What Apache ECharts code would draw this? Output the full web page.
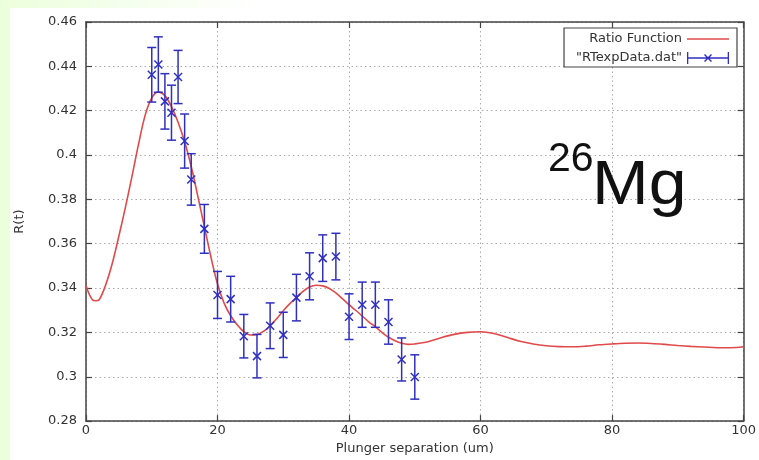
<!DOCTYPE html>
<html>
<head>
<meta charset="utf-8">
<script src="https://cdn.jsdelivr.net/npm/echarts@6/dist/echarts.min.js"></script>
<style>
  html, body { margin: 0; padding: 0; background: #ffffff; }
  #chart { width: 759px; height: 460px; }
</style>
</head>
<body>
<div id="chart"></div>
<script>
// Measured ratio R(t) at each plunger separation (um), with its uncertainty
const sepData = [10, 11, 12, 13, 14, 15, 16, 18, 20, 22, 24, 26, 28, 30, 32, 34, 36, 38, 40, 42, 44, 46, 48, 50];
const ratioData = [0.4362, 0.4408, 0.4242, 0.4191, 0.4352, 0.4063, 0.3890, 0.3667, 0.3369, 0.3350, 0.3183, 0.3093,
                   0.3230, 0.3189, 0.3357, 0.3453, 0.3535, 0.3542, 0.3271, 0.3325, 0.3325, 0.3247, 0.3078, 0.2999];
const ratioErr = [0.0123, 0.0125, 0.0125, 0.0124, 0.0120, 0.0122, 0.0116, 0.0110, 0.0106, 0.0103, 0.0098, 0.0098,
                  0.0103, 0.0102, 0.0105, 0.0106, 0.0105, 0.0105, 0.0103, 0.0102, 0.0102, 0.0100, 0.0097, 0.0100];

// Ratio function curve, sampled along the separation axis
const fitX = [0, 1, 1.5, 2, 3, 4, 5, 6, 7, 8, 9, 10, 11, 12, 13, 14, 15, 16, 17, 18, 19, 20, 21, 22, 23, 24, 25, 26,
              27, 28, 29, 30, 31, 32, 33, 34, 35, 36, 37, 38, 39, 40, 41, 42, 43, 44, 45, 46, 47, 48, 49, 50, 52, 54,
              56, 58, 60, 62, 64, 66, 68, 70, 72, 74, 76, 78, 80, 82, 84, 86, 88, 90, 92, 94, 96, 98, 100];
const fitY = [0.3410, 0.3346, 0.3343, 0.3347, 0.3415, 0.3512, 0.3635, 0.3765, 0.3905, 0.4050, 0.4180, 0.4258, 0.4285,
              0.4268, 0.4218, 0.4148, 0.4060, 0.3948, 0.3815, 0.3677, 0.3540, 0.3418, 0.3332, 0.3275, 0.3234, 0.3203,
              0.3188, 0.3190, 0.3205, 0.3230, 0.3262, 0.3298, 0.3330, 0.3356, 0.3385, 0.3405, 0.3413, 0.3410, 0.3398,
              0.3378, 0.3352, 0.3325, 0.3300, 0.3274, 0.3248, 0.3225, 0.3200, 0.3178, 0.3162, 0.3151, 0.3146, 0.3148,
              0.3158, 0.3176, 0.3191, 0.3200, 0.3203, 0.3195, 0.3178, 0.3160, 0.3148, 0.3140, 0.3136, 0.3135, 0.3138,
              0.3144, 0.3148, 0.3151, 0.3152, 0.3150, 0.3146, 0.3141, 0.3137, 0.3134, 0.3131, 0.3131, 0.3135];

const xRange = [0, 100, 20];      // min, max, step
const yRange = [0.28, 0.46, 0.02];

const fitSeriesName = 'Ratio Function';
const dataSeriesName = '"RTexpData.dat"';
const nucleusMass = '26';
const nucleusSymbol = 'Mg';

const fitPoints = fitX.map((x, i) => [x, fitY[i]]);
const measured = sepData.map((x, i) => [x, ratioData[i], ratioErr[i]]);

const RED = '#e04a4a';
const BLUE = '#3030c0';
const FRAME = '#444';
const TEXT = '#333';
const FONT = 'DejaVu Sans';

const chart = echarts.init(document.getElementById('chart'), null, { renderer: 'canvas' });

const frameAxisX = (pos, labels) => ({
  type: 'value', position: pos, min: xRange[0], max: xRange[1], interval: xRange[2],
  axisLine: { show: true, onZero: false, lineStyle: { color: FRAME, width: 1.5 } },
  axisTick: { show: true, inside: true, length: 6, lineStyle: { color: FRAME, width: 1.2 } },
  axisLabel: { show: labels, color: TEXT, fontFamily: FONT, fontSize: 13, margin: 3 },
  splitLine: { show: labels, lineStyle: { color: '#aaaaaa', type: [1.5, 3], width: 1 } }
});
const frameAxisY = (pos, labels) => ({
  type: 'value', position: pos, min: yRange[0], max: yRange[1], interval: yRange[2],
  axisLine: { show: true, onZero: false, lineStyle: { color: FRAME, width: 1.5 } },
  axisTick: { show: true, inside: true, length: 6, lineStyle: { color: FRAME, width: 1.2 } },
  axisLabel: { show: labels, color: TEXT, fontFamily: FONT, fontSize: 13, margin: 9 },
  splitLine: { show: labels, lineStyle: { color: '#aaaaaa', type: [1.5, 3], width: 1 } }
});

const xMain = frameAxisX('bottom', true);
xMain.name = 'Plunger separation (um)';
xMain.nameLocation = 'middle';
xMain.nameGap = 14;
xMain.nameTextStyle = { color: TEXT, fontFamily: FONT, fontSize: 13 };

const yMain = frameAxisY('left', true);
yMain.name = 'R(t)';
yMain.nameLocation = 'middle';
yMain.nameGap = 60;
yMain.nameTextStyle = { color: TEXT, fontFamily: FONT, fontSize: 13 };

// legend icons: a plain line for the curve; caps, bar and an x marker for the data
const lineIcon = 'path://M0,5.3L42,5.3L42,6.7L0,6.7Z';
const errIcon = 'path://M0,0L1.3,0L1.3,12L0,12Z M40.7,0L42,0L42,12L40.7,12Z M0,5.35L42,5.35L42,6.65L0,6.65Z ' +
  'M17,3L18,2L25,9L24,10Z M24,2L25,3L18,10L17,9Z';

function renderErrorBar(params, api) {
  const x = api.value(0), y = api.value(1), e = api.value(2);
  const top = api.coord([x, y + e]);
  const bot = api.coord([x, y - e]);
  const mid = api.coord([x, y]);
  const cap = 4.5, m = 4;
  const style = { stroke: BLUE, lineWidth: 1.5, fill: null };
  return {
    type: 'group',
    children: [
      { type: 'line', shape: { x1: top[0], y1: top[1], x2: bot[0], y2: bot[1] }, style },
      { type: 'line', shape: { x1: top[0] - cap, y1: top[1], x2: top[0] + cap, y2: top[1] }, style },
      { type: 'line', shape: { x1: bot[0] - cap, y1: bot[1], x2: bot[0] + cap, y2: bot[1] }, style },
      { type: 'line', shape: { x1: mid[0] - m, y1: mid[1] - m, x2: mid[0] + m, y2: mid[1] + m }, style },
      { type: 'line', shape: { x1: mid[0] - m, y1: mid[1] + m, x2: mid[0] + m, y2: mid[1] - m }, style }
    ]
  };
}

const option = {
  backgroundColor: '#ffffff',
  animation: false,
  grid: { left: 86, right: 14, top: 22, bottom: 30.5, containLabel: false },
  xAxis: [xMain, frameAxisX('top', false)],
  yAxis: [yMain, frameAxisY('right', false)],
  legend: {
    orient: 'vertical',
    align: 'right',
    right: 22,
    top: 28,
    padding: [4, 8, 2, 12],
    itemGap: 5,
    itemWidth: 42,
    itemHeight: 12,
    backgroundColor: '#ffffff',
    borderColor: FRAME,
    borderWidth: 1.2,
    textStyle: { color: TEXT, fontFamily: FONT, fontSize: 13, lineHeight: 14 },
    data: [
      { name: fitSeriesName, icon: lineIcon },
      { name: dataSeriesName, icon: errIcon }
    ]
  },
  graphic: [
    // pale green margin along the left and upper-left edge
    { type: 'rect', left: 0, top: 0, z: -10, silent: true,
      shape: { width: 10, height: 460 }, style: { fill: '#ecffdc' } },
    { type: 'rect', left: 0, top: 0, z: -10, silent: true,
      shape: { width: 260, height: 8 },
      style: { fill: new echarts.graphic.LinearGradient(0, 0, 1, 0, [
        { offset: 0, color: '#ecffdc' }, { offset: 0.35, color: '#f2ffe8' }, { offset: 1, color: '#ffffff' }]) } },
    // nucleus label
    { type: 'text', left: 548, top: 139, z: 10,
      style: { text: nucleusMass, font: '41px "Liberation Sans", Arial, sans-serif', fill: '#111' } },
    { type: 'text', left: 592, top: 155, z: 10, scaleX: 1.08,
      style: { text: nucleusSymbol, font: '63px "Liberation Sans", Arial, sans-serif', fill: '#111' } }
  ],
  series: [
    {
      name: fitSeriesName,
      type: 'line',
      data: fitPoints,
      smooth: 0.35,
      symbol: 'none',
      clip: true,
      lineStyle: { color: RED, width: 1.6 },
      itemStyle: { color: RED },
      z: 3
    },
    {
      name: dataSeriesName,
      type: 'custom',
      data: measured,
      encode: { x: 0, y: 1 },
      renderItem: renderErrorBar,
      itemStyle: { color: BLUE },
      clip: true,
      z: 4
    }
  ]
};

chart.setOption(option);
</script>
</body>
</html>
